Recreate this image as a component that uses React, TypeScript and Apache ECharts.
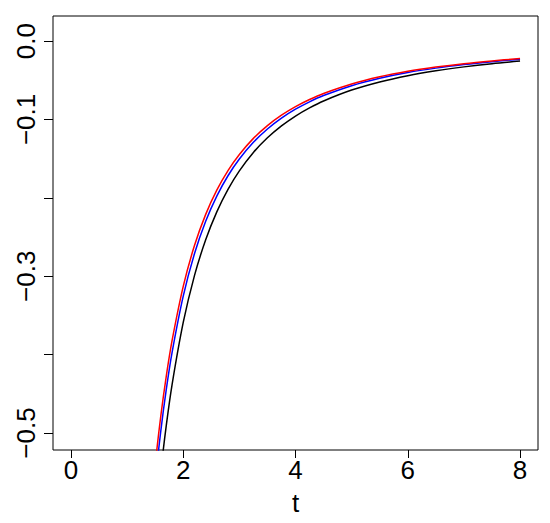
import React, { useEffect, useRef } from "react";
import * as echarts from "echarts";

const tValues = [1.4, 1.5, 1.6, 1.7, 1.8, 2.0, 2.2, 2.4, 2.6, 2.8, 3.0, 3.25, 3.5, 3.75, 4.0, 4.25, 4.5, 5.0, 5.5, 6.0, 6.5, 7.0, 7.5, 8.0];
const blackValues = [-0.7089, -0.6214, -0.5494, -0.4894, -0.4388, -0.359, -0.2992, -0.2535, -0.2176, -0.1889, -0.1656, -0.1421, -0.1234, -0.1082, -0.0956, -0.0852, -0.0764, -0.0625, -0.0521, -0.0441, -0.0379, -0.0329, -0.0288, -0.0255];
const blueValues = [-0.6418, -0.5627, -0.4976, -0.4435, -0.3977, -0.3254, -0.2713, -0.2299, -0.1975, -0.1715, -0.1504, -0.1291, -0.1121, -0.0983, -0.0869, -0.0775, -0.0695, -0.0569, -0.0474, -0.0401, -0.0345, -0.03, -0.0263, -0.0232];
const redValues = [-0.6171, -0.5411, -0.4785, -0.4264, -0.3824, -0.3129, -0.2609, -0.2211, -0.1899, -0.1649, -0.1446, -0.1241, -0.1078, -0.0945, -0.0836, -0.0745, -0.0668, -0.0547, -0.0456, -0.0386, -0.0332, -0.0288, -0.0253, -0.0223];

const xTicks = [0, 2, 4, 6, 8];
const yTicks = [-0.5, -0.4, -0.3, -0.2, -0.1, 0.0];
const yLabels = [-0.5, -0.3, -0.1, 0.0];

const FONT = "'Liberation Sans', Arial, sans-serif";

const fmt = (v: number) => {
  const s = Math.abs(v).toFixed(1);
  return v < -1e-9 ? "\u2212" + s : s;
};

export default function App() {
  const ref = useRef<HTMLDivElement>(null);
  useEffect(() => {
    if (!ref.current) return;
    const chart = echarts.init(ref.current, null, { renderer: "svg" });
    const mk = (vals: number[]) => tValues.map((t, i) => [t, vals[i]]);
    const line = (name: string, vals: number[], color: string) => ({
      name,
      type: "line",
      data: mk(vals),
      showSymbol: false,
      smooth: 0.3,
      clip: true,
      lineStyle: { color, width: 1.5 },
      itemStyle: { color },
    });
    chart.setOption({
      animation: false,
      backgroundColor: "#fff",
      grid: {
        left: 53,
        top: 16,
        right: 12,
        bottom: 73,
        show: true,
        borderColor: "#000",
        borderWidth: 1,
        backgroundColor: "transparent",
      },
      xAxis: {
        type: "value",
        min: -0.32,
        max: 8.32,
        name: "t",
        nameLocation: "middle",
        nameGap: 40,
        nameTextStyle: { fontSize: 26, color: "#000", fontFamily: FONT },
        axisLine: { show: false, onZero: false },
        splitLine: { show: false },
        axisTick: { show: true, length: 8, customValues: xTicks, lineStyle: { color: "#000" } },
        axisLabel: {
          customValues: xTicks,
          fontSize: 26,
          color: "#000",
          fontFamily: FONT,
          margin: 7,
          formatter: (v: number) => String(v),
        },
      },
      yAxis: {
        type: "value",
        min: -0.5217,
        max: 0.032,
        axisLine: { show: false, onZero: false },
        splitLine: { show: false },
        axisTick: { show: true, length: 9, customValues: yTicks, lineStyle: { color: "#000" } },
        axisLabel: {
          customValues: yLabels,
          fontSize: 26,
          color: "#000",
          fontFamily: FONT,
          rotate: 90,
          margin: 14,
          formatter: (v: number) => fmt(v),
        },
      },
      series: [
        line("black", blackValues, "#000000"),
        line("blue", blueValues, "#0000FF"),
        line("red", redValues, "#FF0000"),
      ],
    });
    return () => chart.dispose();
  }, []);
  return (
    <div
      ref={ref}
      style={{ position: "fixed", left: 0, top: 0, width: 550, height: 523, background: "#fff" }}
    />
  );
}
